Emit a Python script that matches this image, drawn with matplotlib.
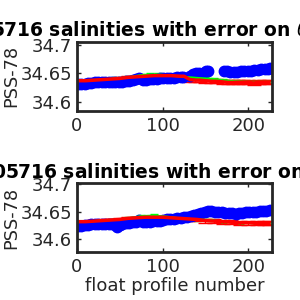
import numpy as np
import matplotlib
matplotlib.use("Agg")
import matplotlib.pyplot as plt

# ---- data (profile number, salinity) ----
# top panel
top_blue_x = [1, 5, 9, 13, 17, 21, 25, 29, 33, 37, 41, 45, 49, 53, 57, 61, 65, 69, 73, 77,
              81, 85, 89, 93, 97, 101, 105, 109, 113, 117, 121, 124,
              132, 135, 139, 143, 147, 151, 153,
              171, 175, 179, 183, 187, 191, 195, 199, 203, 207, 211, 215, 219, 223, 225]
top_blue_y = [34.632, 34.632, 34.632, 34.633, 34.633, 34.634, 34.634, 34.635, 34.635, 34.635,
              34.635, 34.634, 34.634, 34.635, 34.636, 34.637, 34.638, 34.640, 34.642, 34.639,
              34.639, 34.640, 34.640, 34.640, 34.641, 34.641, 34.641, 34.642, 34.642, 34.643,
              34.643, 34.644,
              34.646, 34.649, 34.650, 34.651, 34.651, 34.654, 34.655,
              34.654, 34.654, 34.653, 34.653, 34.653, 34.654, 34.654, 34.655, 34.655, 34.656,
              34.656, 34.657, 34.657, 34.658, 34.659]
top_red_x = [1, 10, 20, 30, 40, 50, 60, 70, 80, 90, 100, 110, 120, 125,
             132, 138, 144, 150, 156, 162, 170, 176, 182, 188, 194, 200, 206, 212, 218, 224]
top_red_y = [34.637, 34.637, 34.638, 34.639, 34.640, 34.641, 34.643, 34.644, 34.645, 34.646,
             34.646, 34.646, 34.645, 34.645,
             34.639, 34.638, 34.638, 34.637, 34.636, 34.636, 34.635, 34.634, 34.634, 34.634,
             34.634, 34.634, 34.633, 34.634, 34.634, 34.634]
top_red_err = [0.002] * 14 + [0.0035] * 16
top_green_x = [1, 15, 30, 45, 60, 75, 85, 95, 110, 125, 132, 140, 150, 160, 170, 185, 200, 215, 224]
top_green_y = [34.637, 34.638, 34.639, 34.641, 34.643, 34.647, 34.648, 34.648, 34.646, 34.644,
               34.643, 34.642, 34.641, 34.640, 34.638, 34.636, 34.635, 34.635, 34.635]

# bottom panel
bot_blue_x = [1, 5, 9, 13, 17, 21, 25, 29, 33, 37, 41, 45, 47, 50, 53, 57, 61, 65, 69, 73,
              77, 81, 85, 89, 93, 97, 101, 105, 109, 113, 117, 121, 125, 129, 133, 137, 141,
              145, 149, 153, 157, 161, 165, 169, 173, 177, 181, 185, 189, 193, 197, 201, 205,
              209, 213, 217, 221, 225]
bot_blue_y = [34.625, 34.625, 34.626, 34.626, 34.627, 34.627, 34.628, 34.628, 34.628, 34.628,
              34.628, 34.626, 34.622, 34.626, 34.628, 34.629, 34.630, 34.631, 34.632, 34.635,
              34.632, 34.632, 34.632, 34.633, 34.633, 34.634, 34.635, 34.636, 34.636, 34.637,
              34.638, 34.639, 34.640, 34.641, 34.642, 34.644, 34.645, 34.647, 34.649, 34.651,
              34.651, 34.650, 34.650, 34.649, 34.648, 34.648, 34.647, 34.646, 34.647, 34.648,
              34.649, 34.649, 34.650, 34.650, 34.651, 34.651, 34.652, 34.653]
bot_red_x = [1, 10, 20, 30, 40, 50, 60, 70, 80, 90, 100, 110, 120, 130, 140, 150, 160,
             170, 180, 190, 200, 210, 218, 224]
bot_red_y = [34.632, 34.632, 34.633, 34.634, 34.635, 34.636, 34.638, 34.639, 34.640, 34.640,
             34.640, 34.639, 34.638, 34.637, 34.636, 34.634, 34.633, 34.632, 34.631, 34.630,
             34.630, 34.629, 34.629, 34.629]
bot_red_err = [0.002] * 12 + [0.0035] * 12
bot_green_x = [1, 20, 40, 60, 75, 90, 105, 120, 140, 155, 170, 190, 210, 224]
bot_green_y = [34.632, 34.633, 34.635, 34.638, 34.642, 34.643, 34.641, 34.638, 34.636, 34.635,
               34.632, 34.630, 34.629, 34.629]

titles = ["5905716 salinities with error on $\\theta$ = 3.5\u00b0C",
          "5905716 salinities with error on $\\theta$ = 2\u00b0C"]
title_x = [0.49, 0.51]

plt.rcParams['font.family'] = 'DejaVu Sans'
fig = plt.figure(figsize=(3, 3), dpi=100)

panels = [
    ([0.256, 0.631, 0.652, 0.230], (34.584, 34.706), top_blue_x, top_blue_y, top_red_x, top_red_y,
     top_red_err, top_green_x, top_green_y),
    ([0.256, 0.161, 0.652, 0.228], (34.578, 34.701), bot_blue_x, bot_blue_y, bot_red_x, bot_red_y,
     bot_red_err, bot_green_x, bot_green_y),
]

dark = '#262626'
for i, (pos, ylim, bx, by, rx, ry, rerr, gx, gy) in enumerate(panels):
    ax = fig.add_axes(pos)
    ax.errorbar(gx, gy, yerr=0.002, color='#00ff00', lw=1.5, capsize=3, elinewidth=1)
    ax.errorbar(rx, ry, yerr=rerr, color='red', lw=2.5, capsize=5, elinewidth=1)
    ax.plot(bx, by, 'o', color='blue', ms=7.5, mec='blue', ls='none')
    ax.set_xlim(0, 228)
    ax.set_ylim(*ylim)
    ax.set_xticks([0, 100, 200])
    ax.set_yticks([34.6, 34.65, 34.7])
    ax.set_yticklabels(['34.6', '34.65', '34.7'])
    ax.tick_params(direction='in', top=True, right=True, labelsize=13, colors=dark,
                   length=3, width=1)
    ax.tick_params(axis='x', pad=4.5)
    for s in ax.spines.values():
        s.set_linewidth(2)
        s.set_color(dark)
    ax.set_ylabel('PSS-78', fontsize=12.7, color=dark, labelpad=0)
    ax.set_title(titles[i], fontsize=13.5, fontweight='bold', pad=4, x=title_x[i])
    if i == 1:
        ax.set_xlabel('float profile number', fontsize=13, color=dark, labelpad=1)

fig.savefig('out.png', dpi=100)
